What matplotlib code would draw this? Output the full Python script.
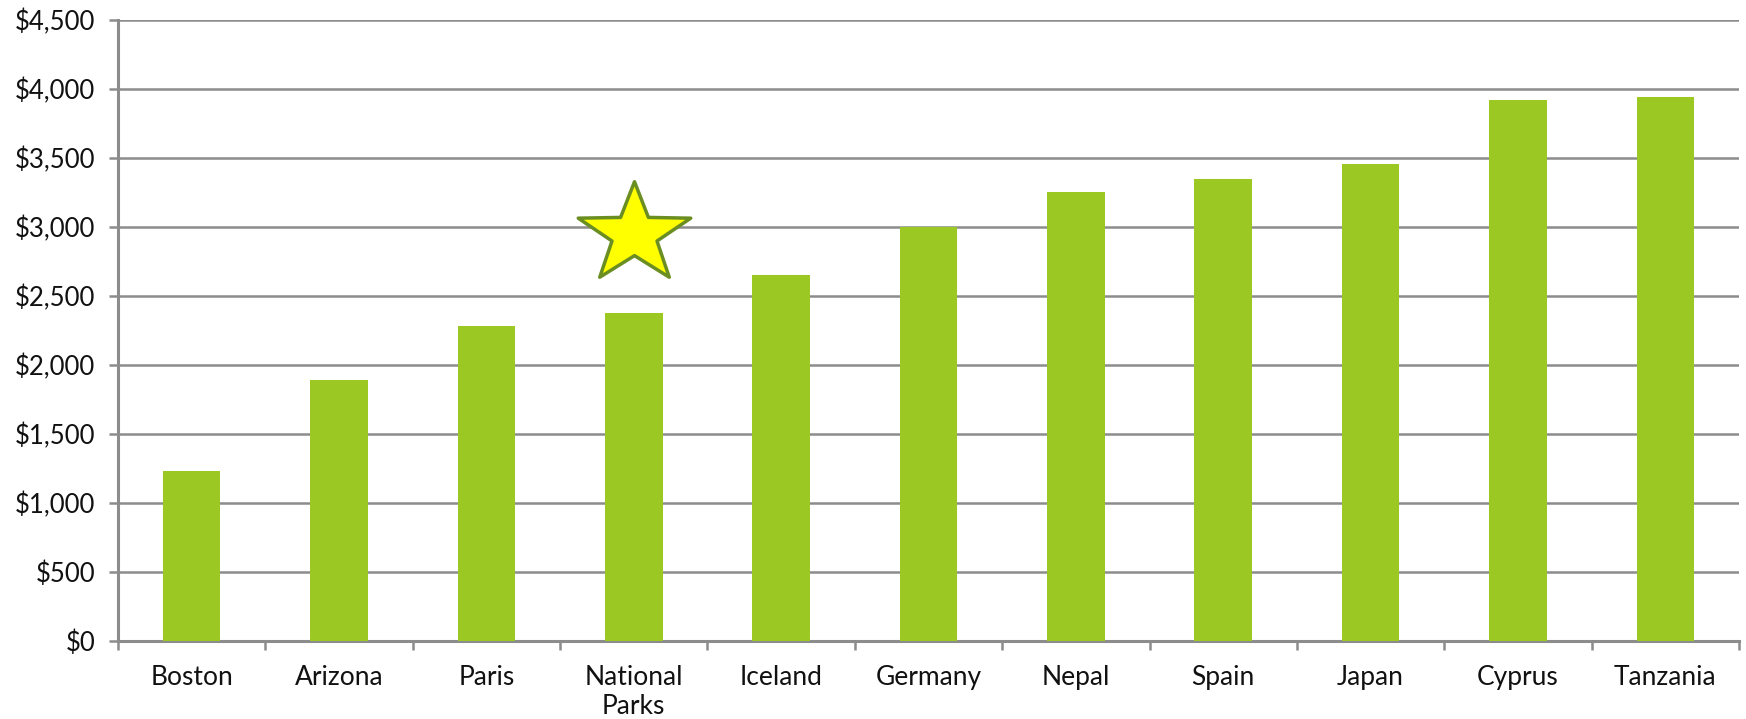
import matplotlib
matplotlib.use("Agg")
import matplotlib.pyplot as plt
import numpy as np
from matplotlib.path import Path
from matplotlib.ticker import FuncFormatter, MultipleLocator, FixedLocator

categories = ["Boston", "Arizona", "Paris", "National\nParks", "Iceland", "Germany",
              "Nepal", "Spain", "Japan", "Cyprus", "Tanzania"]
values = [1230, 1890, 2280, 2380, 2650, 3000, 3250, 3350, 3460, 3920, 3940]
star_category = 3
star_value = 2950

plt.rcParams['font.family'] = ['Lato', 'DejaVu Sans']

fig = plt.figure(figsize=(17.46, 7.19), dpi=100)
ax = fig.add_axes([118/1746, 1-641/719, (1739-118)/1746, (641-20)/719])

x = np.arange(len(categories))
ax.bar(x, values, width=0.39, color='#9BC823', zorder=3)

ax.set_ylim(0, 4500)
ax.set_xlim(-0.5, len(categories)-0.5)
ax.yaxis.set_major_locator(MultipleLocator(500))
ax.yaxis.set_major_formatter(FuncFormatter(lambda v, p: "${:,.0f}".format(v)))
ax.grid(axis='y', color='#8C8C8C', linewidth=1.8, zorder=0)
ax.set_axisbelow(True)

ax.set_xticks(x)
ax.set_xticklabels(categories, fontsize=19, linespacing=1.2)
ax.xaxis.set_minor_locator(FixedLocator(np.arange(-0.5, len(categories), 1.0)))
ax.tick_params(axis='x', which='major', length=0, pad=17)
ax.tick_params(axis='x', which='minor', length=6.5, width=1.8, color='#8C8C8C', direction='out')
ax.tick_params(axis='y', length=6.5, width=1.8, color='#8C8C8C', labelsize=18.5, pad=10)
for lbl in ax.get_yticklabels():
    lbl.set_color('#111111')
for lbl in ax.get_xticklabels():
    lbl.set_color('#111111')

for s in ['top', 'right']:
    ax.spines[s].set_visible(False)
for s in ['left', 'bottom']:
    ax.spines[s].set_color('#8C8C8C')
    ax.spines[s].set_linewidth(2.2)

# star marker (slightly wide)
star = Path.unit_regular_star(5, 0.40)
verts = star.vertices.copy()
verts[:, 0] *= 1.12
star_path = Path(verts, star.codes)
ax.plot([star_category], [star_value], marker=star_path, markersize=81,
        markerfacecolor='#FFFF00', markeredgecolor='#6B8E23', markeredgewidth=2.5,
        linestyle='none', zorder=5, clip_on=False)

fig.savefig("out.png", dpi=100)
